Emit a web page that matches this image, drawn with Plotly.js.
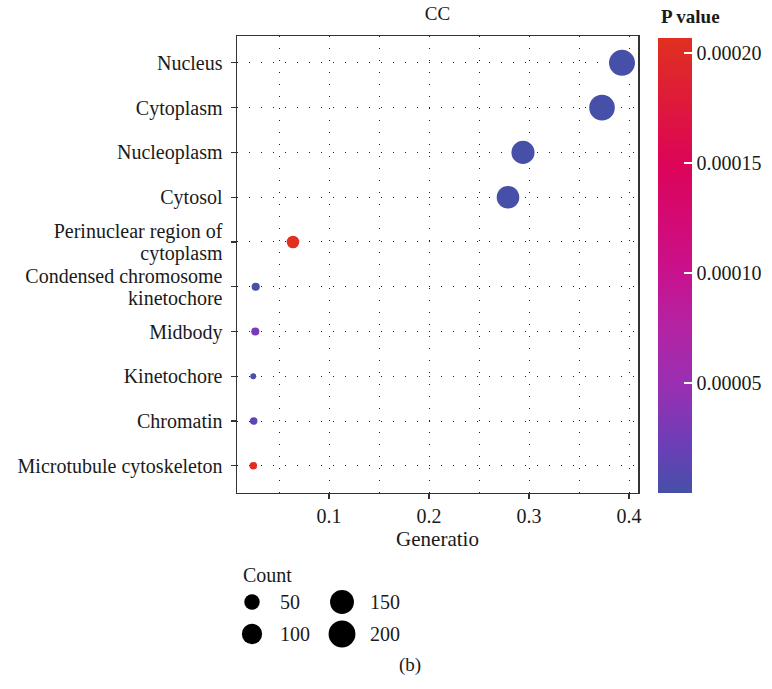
<!DOCTYPE html>
<html>
<head>
<meta charset="utf-8">
<script src="https://cdn.plot.ly/plotly-3.0.1.min.js"></script>
<style>html,body{margin:0;padding:0;background:#fff;}#chart{width:772px;height:689px;}</style>
</head>
<body>
<div id="chart"></div>
<script>
// ---- data ----
var terms = ["Nucleus", "Cytoplasm", "Nucleoplasm", "Cytosol",
  "Perinuclear region of<br>cytoplasm", "Condensed chromosome<br>kinetochore",
  "Midbody", "Kinetochore", "Chromatin", "Microtubule cytoskeleton"];
var geneRatio = [0.393, 0.373, 0.294, 0.279, 0.064, 0.0267, 0.0263, 0.0243, 0.0247, 0.0243];
var counts = [185, 178, 138, 131, 30, 13, 13, 11, 12, 12];
var pvalues = [1e-30, 1e-25, 1e-18, 1e-16, 0.000207, 0.0000008, 0.000031, 0.000003, 0.000015, 0.000201];
var xTickVals = [0.1, 0.2, 0.3, 0.4];
var xTickText = ["0.1", "0.2", "0.3", "0.4"];
var cbTickVals = [0.00005, 0.00010, 0.00015, 0.00020];
var cbTickText = ["0.00005", "0.00010", "0.00015", "0.00020"];
var legendCounts = [50, 100, 150, 200];

// ---- styling ----
var W = 772, H = 689;
var FONT = "Liberation Serif, Times New Roman, serif";
var TXT = "#1a1a1a";
var dMin = 6, dMax = 26;
var cMin = Math.min.apply(null, counts), cMax = Math.max.apply(null, counts);
function diam(c) { return dMin + (dMax - dMin) * Math.sqrt(Math.max(c - cMin, 0) / (cMax - cMin)); }

var colorscale = [
  [0.00, "#4650a8"],
  [0.10, "#6a3fb6"],
  [0.24, "#9a2fb2"],
  [0.36, "#b224a4"],
  [0.48, "#c8128e"],
  [0.60, "#d40a74"],
  [0.72, "#dc0458"],
  [0.86, "#de1a3a"],
  [1.00, "#e03020"]
];
var pMin = Math.min.apply(null, pvalues), pMax = Math.max.apply(null, pvalues);

function px(x) { return x / W; }
function py(y) { return 1 - y / H; }

var main = {
  type: "scatter", mode: "markers",
  x: geneRatio, y: terms,
  xaxis: "x", yaxis: "y",
  hoverinfo: "skip",
  marker: {
    size: counts.map(diam), sizemode: "diameter",
    color: pvalues, colorscale: colorscale, cmin: pMin, cmax: pMax,
    opacity: 1, line: {width: 0},
    colorbar: {
      x: px(658), xanchor: "left", xref: "paper",
      y: py(37.7), yanchor: "top", yref: "paper",
      len: (492.7 - 37.7) / H, lenmode: "fraction",
      thickness: 34, thicknessmode: "pixels",
      outlinewidth: 0, xpad: 0, ypad: 0,
      tickmode: "array", tickvals: cbTickVals, ticktext: cbTickText,
      ticks: "inside", ticklen: 8, tickcolor: "#ffffff", tickwidth: 1.5,
      tickfont: {family: FONT, size: 20, color: TXT},
      title: {text: ""}
    }
  },
  showlegend: false
};

var legendTrace = {
  type: "scatter", mode: "markers",
  x: legendCounts.map(function (c, i) { return Math.floor(i / 2); }),
  y: legendCounts.map(function (c, i) { return i % 2; }),
  xaxis: "x2", yaxis: "y2",
  hoverinfo: "skip",
  marker: {size: legendCounts.map(diam), sizemode: "diameter", color: "#000000", opacity: 1, line: {width: 0}},
  showlegend: false
};

var annotations = legendCounts.map(function (c, i) {
  return {
    xref: "x2", yref: "y2", x: Math.floor(i / 2) + 0.287, y: i % 2,
    text: String(c), showarrow: false, xanchor: "left", yanchor: "middle",
    font: {family: FONT, size: 20, color: TXT}
  };
});
annotations.push({
  xref: "paper", yref: "paper", x: px(241), y: py(575), text: "Count",
  showarrow: false, xanchor: "left", yanchor: "middle",
  font: {family: FONT, size: 20, color: TXT}
});
annotations.push({
  xref: "paper", yref: "paper", x: px(410), y: py(665), text: "(b)",
  showarrow: false, xanchor: "center", yanchor: "middle",
  font: {family: FONT, size: 19, color: TXT}
});
annotations.push({
  xref: "paper", yref: "paper", x: px(659), y: py(17), text: "<b>P value</b>",
  showarrow: false, xanchor: "left", yanchor: "middle",
  font: {family: FONT, size: 19, color: TXT}
});

var gridDash = "1px,11px";
var layout = {
  width: W, height: H,
  margin: {l: 0, r: 0, t: 0, b: 0},
  paper_bgcolor: "#ffffff", plot_bgcolor: "#ffffff",
  font: {family: FONT, color: TXT},
  title: {text: "CC", x: px(437.5), xanchor: "center", xref: "paper", y: py(13), yanchor: "middle", yref: "paper",
          font: {family: FONT, size: 19, color: TXT}},
  xaxis: {
    domain: [px(237), px(638)], range: [0.008, 0.409], automargin: false,
    tickmode: "array", tickvals: xTickVals, ticktext: xTickText,
    ticks: "outside", ticklen: 5, tickwidth: 1.2, tickcolor: "#333333",
    tickfont: {family: FONT, size: 20, color: TXT},
    showline: true, linecolor: "#333333", linewidth: 1.5, mirror: true,
    showgrid: true, gridcolor: "#222222", gridwidth: 1, griddash: gridDash,
    minor: {dtick: 0.05, tick0: 0, showgrid: true, gridcolor: "#222222", gridwidth: 1, griddash: gridDash},
    zeroline: false,
    title: {text: "Generatio", font: {family: FONT, size: 21, color: TXT}, standoff: 4}
  },
  yaxis: {
    domain: [py(492.7), py(36)], type: "category", categoryorder: "array", categoryarray: terms,
    range: [9.6, -0.6], automargin: false,
    ticks: "outside", ticklen: 5, tickwidth: 1.2, tickcolor: "#333333",
    tickfont: {family: FONT, size: 20, color: TXT}, ticklabelstandoff: 4,
    showline: true, linecolor: "#333333", linewidth: 1.5, mirror: true,
    showgrid: true, gridcolor: "#222222", gridwidth: 1, griddash: gridDash,
    zeroline: false
  },
  xaxis2: {domain: [px(237), px(437)], range: [-15 / 90, -15 / 90 + 200 / 90], visible: false, anchor: "y2", fixedrange: true},
  yaxis2: {domain: [py(650), py(590)], range: [1.5, -0.375], visible: false, anchor: "x2", fixedrange: true},
  annotations: annotations,
  showlegend: false
};

// tighter line spacing for the wrapped y tick labels (Plotly default is 1.3em)
var LINE_GAP = 1.12, PLOTLY_GAP = 1.3;
function tightenLabels(gd) {
  var texts = gd.querySelectorAll(".ytick text");
  texts.forEach(function (t) {
    var lines = t.querySelectorAll("tspan.line");
    var n = lines.length;
    if (n < 2) return;
    var offset = (PLOTLY_GAP - LINE_GAP) * (n - 1) / 2;
    lines.forEach(function (ln, k) {
      ln.setAttribute("dy", (k * LINE_GAP + offset).toFixed(3) + "em");
    });
  });
}

var gd = document.getElementById("chart");
Plotly.newPlot(gd, [main, legendTrace], layout, {displayModeBar: false, staticPlot: true}).then(function () {
  tightenLabels(gd);
});
</script>
</body>
</html>
